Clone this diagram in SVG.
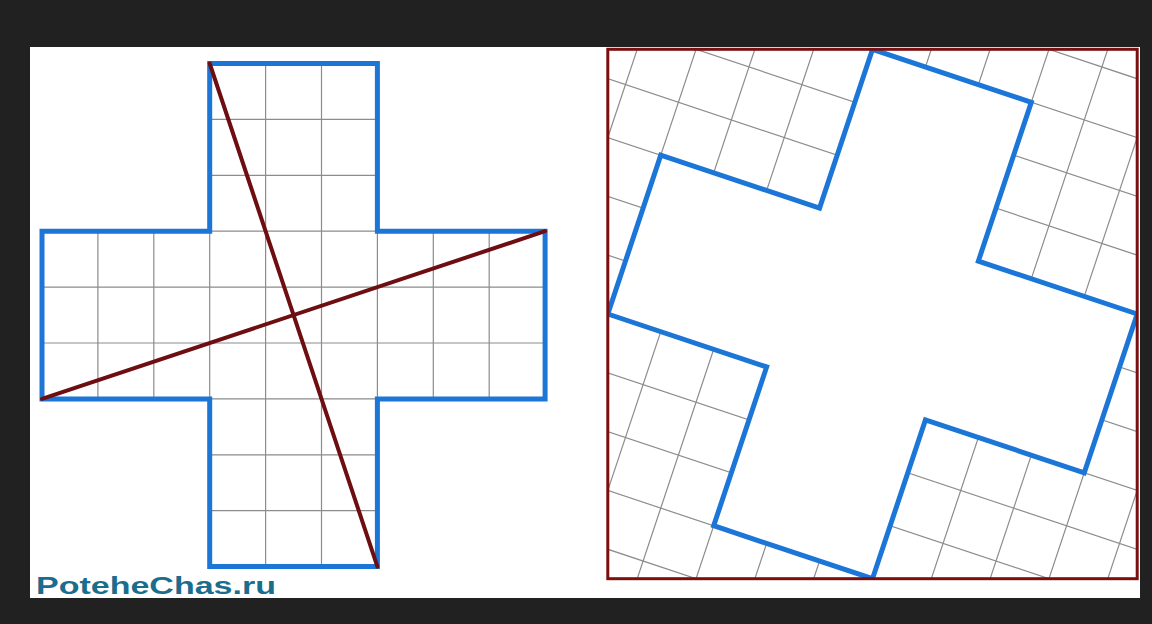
<svg xmlns="http://www.w3.org/2000/svg" width="1152" height="624" viewBox="0 0 1152 624">
<style>
.grid{stroke:#8c8c8c;stroke-width:1.2;fill:none}
.cross{stroke:#1c76d8;stroke-width:5;fill:none;stroke-linejoin:miter}
.crossw{stroke:#1c76d8;stroke-width:5;fill:#ffffff;stroke-linejoin:miter}
.diag{stroke:#6c0e12;stroke-width:4;stroke-linecap:round}
.frame{stroke:#7a0f10;stroke-width:3;fill:none}
.logo{font-family:"Liberation Sans",Arial,sans-serif;font-weight:bold;font-size:23px;fill:#1b6d8e}
</style>
<defs>
<clipPath id="sq"><rect x="607.8" y="49.3" width="529.4" height="529.4"/></clipPath>
<g id="rgrid">
<path class="grid" d="M-167.4 -167.4V669.6M-111.6 -167.4V669.6M-55.8 -167.4V669.6M0 -167.4V669.6M55.8 -167.4V669.6M111.6 -167.4V669.6M167.4 -167.4V669.6M223.2 -167.4V669.6M279 -167.4V669.6M334.8 -167.4V669.6M390.6 -167.4V669.6M446.4 -167.4V669.6M502.2 -167.4V669.6M558 -167.4V669.6M613.8 -167.4V669.6M669.6 -167.4V669.6"/>
<path class="grid" d="M-167.4 -167.4H669.6M-167.4 -111.6H669.6M-167.4 -55.8H669.6M-167.4 0H669.6M-167.4 55.8H669.6M-167.4 111.6H669.6M-167.4 167.4H669.6M-167.4 223.2H669.6M-167.4 279H669.6M-167.4 334.8H669.6M-167.4 390.6H669.6M-167.4 446.4H669.6M-167.4 502.2H669.6M-167.4 558H669.6M-167.4 613.8H669.6M-167.4 669.6H669.6"/>
</g>
</defs>
<rect x="0" y="0" width="1152" height="624" fill="#212121"/>
<rect x="30" y="47" width="1110" height="551" fill="#ffffff"/>

<g id="left-cross">
<path class="grid" d="M97.9 231.2V398.9M153.8 231.2V398.9M209.7 231.2V398.9M377.4 231.2V398.9M433.3 231.2V398.9M489.2 231.2V398.9M265.6 63.5V566.6M321.5 63.5V566.6"/>
<path class="grid" d="M209.7 119.4H377.4M209.7 175.3H377.4M209.7 231.2H377.4M209.7 398.9H377.4M209.7 454.8H377.4M209.7 510.7H377.4M42 287.1H545.1M42 343H545.1"/>
<path class="cross" d="M209.7 63.5H377.4V231.2H545.1V398.9H377.4V566.6H209.7V398.9H42V231.2H209.7Z"/>
</g>

<g id="connectors">
<line class="diag" x1="209.7" y1="63.5" x2="377.4" y2="566.6"/>
<line class="diag" x1="42" y1="398.9" x2="545.1" y2="231.2"/>
</g>

<g id="right-square">
<g clip-path="url(#sq)">
<g transform="translate(872.5 314) rotate(18.4349) translate(-251.1 -251.1)">
<use href="#rgrid"/>
<path class="crossw" d="M167.4 0H334.8V167.4H502.2V334.8H334.8V502.2H167.4V334.8H0V167.4H167.4Z"/>
</g>
</g>
<rect class="frame" x="607.8" y="49.3" width="529.4" height="529.4"/>
</g>

<g id="logo">
<text class="logo" x="36" y="594" textLength="240" lengthAdjust="spacingAndGlyphs">PoteheChas.ru</text>
</g>
</svg>
